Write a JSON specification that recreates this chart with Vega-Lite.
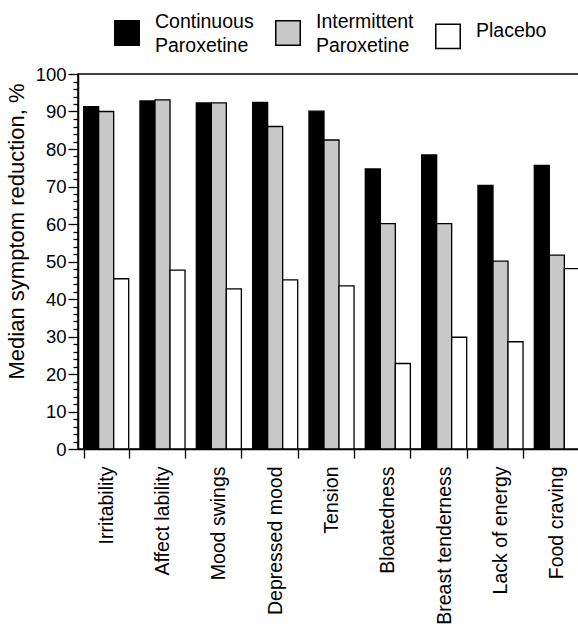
{
  "$schema": "https://vega.github.io/schema/vega-lite/v6.json",
  "autosize": "none",
  "padding": {"left": 78, "top": 74, "right": 0, "bottom": 177},
  "width": 507,
  "height": 375,
  "background": "white",
  "config": {
    "font": "Liberation Sans",
    "view": {"stroke": "black", "strokeWidth": 1.5},
    "axis": {"labelColor": "black", "titleColor": "black", "domainColor": "black", "tickColor": "black", "domainWidth": 1.5, "tickWidth": 1.3, "labelFont": "Liberation Sans", "titleFont": "Liberation Sans", "titleFontWeight": "normal", "grid": false}
  },
  "data": {
    "values": [
      {"symptom": "Irritability", "treatment": "Continuous Paroxetine", "value": 91.3},
      {"symptom": "Irritability", "treatment": "Intermittent Paroxetine", "value": 90.0},
      {"symptom": "Irritability", "treatment": "Placebo", "value": 45.4},
      {"symptom": "Affect lability", "treatment": "Continuous Paroxetine", "value": 92.8},
      {"symptom": "Affect lability", "treatment": "Intermittent Paroxetine", "value": 93.1},
      {"symptom": "Affect lability", "treatment": "Placebo", "value": 47.7},
      {"symptom": "Mood swings", "treatment": "Continuous Paroxetine", "value": 92.3},
      {"symptom": "Mood swings", "treatment": "Intermittent Paroxetine", "value": 92.3},
      {"symptom": "Mood swings", "treatment": "Placebo", "value": 42.7},
      {"symptom": "Depressed mood", "treatment": "Continuous Paroxetine", "value": 92.4},
      {"symptom": "Depressed mood", "treatment": "Intermittent Paroxetine", "value": 86.0},
      {"symptom": "Depressed mood", "treatment": "Placebo", "value": 45.1},
      {"symptom": "Tension", "treatment": "Continuous Paroxetine", "value": 90.1},
      {"symptom": "Tension", "treatment": "Intermittent Paroxetine", "value": 82.4},
      {"symptom": "Tension", "treatment": "Placebo", "value": 43.5},
      {"symptom": "Bloatedness", "treatment": "Continuous Paroxetine", "value": 74.7},
      {"symptom": "Bloatedness", "treatment": "Intermittent Paroxetine", "value": 60.1},
      {"symptom": "Bloatedness", "treatment": "Placebo", "value": 22.8},
      {"symptom": "Breast tenderness", "treatment": "Continuous Paroxetine", "value": 78.4},
      {"symptom": "Breast tenderness", "treatment": "Intermittent Paroxetine", "value": 60.1},
      {"symptom": "Breast tenderness", "treatment": "Placebo", "value": 29.8},
      {"symptom": "Lack of energy", "treatment": "Continuous Paroxetine", "value": 70.3},
      {"symptom": "Lack of energy", "treatment": "Intermittent Paroxetine", "value": 50.1},
      {"symptom": "Lack of energy", "treatment": "Placebo", "value": 28.6},
      {"symptom": "Food craving", "treatment": "Continuous Paroxetine", "value": 75.6},
      {"symptom": "Food craving", "treatment": "Intermittent Paroxetine", "value": 51.7},
      {"symptom": "Food craving", "treatment": "Placebo", "value": 48.1}
    ]
  },
  "mark": {"type": "bar", "stroke": "black", "strokeWidth": 1.3},
  "encoding": {
    "x": {
      "field": "symptom",
      "type": "nominal",
      "sort": null,
      "scale": {"paddingInner": 0.2, "paddingOuter": 0.1},
      "axis": {
        "title": null,
        "tickBand": "extent",
        "tickSize": 9,
        "labelAngle": -90,
        "labelAlign": "right",
        "labelBaseline": "middle",
        "labelFontSize": 19.5,
        "labelPadding": 8,
        "labelLimit": 300
      }
    },
    "xOffset": {
      "field": "treatment",
      "type": "nominal",
      "sort": null,
      "scale": {"paddingInner": 0, "paddingOuter": 0}
    },
    "y": {
      "field": "value",
      "type": "quantitative",
      "scale": {"domain": [0, 100], "nice": false},
      "axis": {
        "title": "Median symptom reduction, %",
        "titleFontSize": 22,
        "titlePadding": 7,
        "titleY": 157,
        "values": [0, 2, 4, 6, 8, 10, 12, 14, 16, 18, 20, 22, 24, 26, 28, 30, 32, 34, 36, 38, 40, 42, 44, 46, 48, 50, 52, 54, 56, 58, 60, 62, 64, 66, 68, 70, 72, 74, 76, 78, 80, 82, 84, 86, 88, 90, 92, 94, 96, 98, 100],
        "labelExpr": "datum.value % 10 === 0 ? datum.label : ''",
        "tickSize": {"condition": {"test": "datum.value % 10 === 0", "value": 10}, "value": 5},
        "labelFontSize": 18.5,
        "labelPadding": 2
      }
    },
    "fill": {
      "field": "treatment",
      "type": "nominal",
      "sort": null,
      "scale": {"domain": ["Continuous Paroxetine", "Intermittent Paroxetine", "Placebo"], "range": ["black", "#c8c8c8", "white"]},
      "legend": {
        "title": null,
        "orient": "none",
        "legendX": 36,
        "legendY": -54,
        "direction": "horizontal",
        "padding": 0,
        "symbolType": "square",
        "symbolSize": 600,
        "symbolStrokeColor": "black",
        "symbolStrokeWidth": 1.5,
        "labelFontSize": 19.5,
        "labelColor": "black",
        "labelOffset": 15,
        "columnPadding": 18,
        "labelLimit": 300,
        "labelExpr": "datum.label == 'Placebo' ? 'Placebo' : split(datum.label, ' ')",
        "labelBaseline": "middle",
        "encode": {"labels": {"update": {"lineHeight": {"value": 24}, "dy": {"signal": "datum.value === 'Placebo' ? -5 : -11.5"}}}}
      }
    }
  }
}
